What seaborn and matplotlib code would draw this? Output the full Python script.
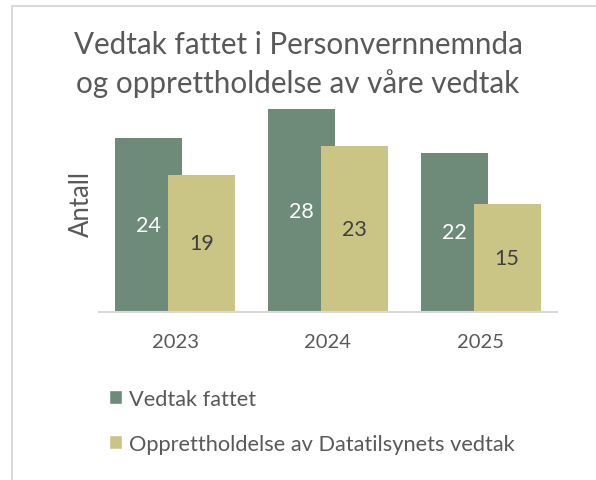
import matplotlib
matplotlib.use("Agg")
import matplotlib.pyplot as plt
from matplotlib.lines import Line2D
from matplotlib.patches import Patch
import pandas as pd
import seaborn as sns

years = ["2023", "2024", "2025"]
series_names = ["Vedtak fattet", "Opprettholdelse av Datatilsynets vedtak"]
vedtak_fattet = [24, 28, 22]
opprettholdt = [19, 23, 15]

GREEN = "#6e8b7a"
KHAKI = "#cbc585"
TEXT = "#595959"

df = pd.DataFrame({
    "year": years * 2,
    "serie": [series_names[0]] * 3 + [series_names[1]] * 3,
    "antall": vedtak_fattet + opprettholdt,
})

sns.set_theme(style="white")
plt.rcParams["font.family"] = ["Lato", "DejaVu Sans"]

W, H = 596, 481
fig = plt.figure(figsize=(W / 100, H / 100), dpi=100)
ax = fig.add_axes([99 / W, 1 - 313 / H, (557 - 99) / W, (313 - 96) / H])

sns.barplot(data=df, x="year", y="antall", hue="serie",
            palette=[GREEN, KHAKI], width=0.877, gap=0, linewidth=0,
            saturation=1, ax=ax, legend=False)
ax.set_ylim(0, 30)
ax.set_xlim(-0.5, 2.5)

# excel style overlap: pull the two series together so they overlap a bit
shift = 0.046
for cont, sign in zip(ax.containers, [1, -1]):
    for p in cont.patches:
        p.set_x(p.get_x() + sign * shift)

label_colors = ["white", "#404040"]
for cont, col in zip(ax.containers, label_colors):
    ax.bar_label(cont, label_type="center", color=col, fontsize=15.5)

for s in ["top", "right", "left"]:
    ax.spines[s].set_visible(False)
ax.spines["bottom"].set_color("#d9d9d9")
ax.spines["bottom"].set_linewidth(1.5)
ax.set_yticks([])
ax.tick_params(axis="x", length=0, labelsize=14.5, labelcolor=TEXT, pad=15)
ax.set_xlabel("")
ax.set_ylabel("Antall", fontsize=18.5, color=TEXT, labelpad=4)

fig.text(0.5, 1 - 45 / H, "Vedtak fattet i Personvernnemnda", ha="center",
         va="center", fontsize=21.3, color=TEXT)
fig.text(0.5, 1 - 84 / H, "og opprettholdelse av våre vedtak", ha="center",
         va="center", fontsize=21.3, color=TEXT)

handles = [Patch(facecolor=GREEN), Patch(facecolor=KHAKI)]
ax.legend(handles, series_names, loc="upper left",
          bbox_to_anchor=(100 / W, 1 - 381 / H), bbox_transform=fig.transFigure,
          frameon=False, fontsize=15.7, labelcolor=TEXT,
          handlelength=0.62, handleheight=0.62, handletextpad=0.3,
          labelspacing=1.15, borderaxespad=0)

# chart frame (only top and left edges visible in the crop)
fig.add_artist(Line2D([12 / W, 1], [1 - 7 / H, 1 - 7 / H], color="#d9d9d9", lw=1.5))
fig.add_artist(Line2D([12 / W, 12 / W], [1 - 7 / H, 0], color="#d9d9d9", lw=1.5))

fig.savefig("out.png", dpi=100)
